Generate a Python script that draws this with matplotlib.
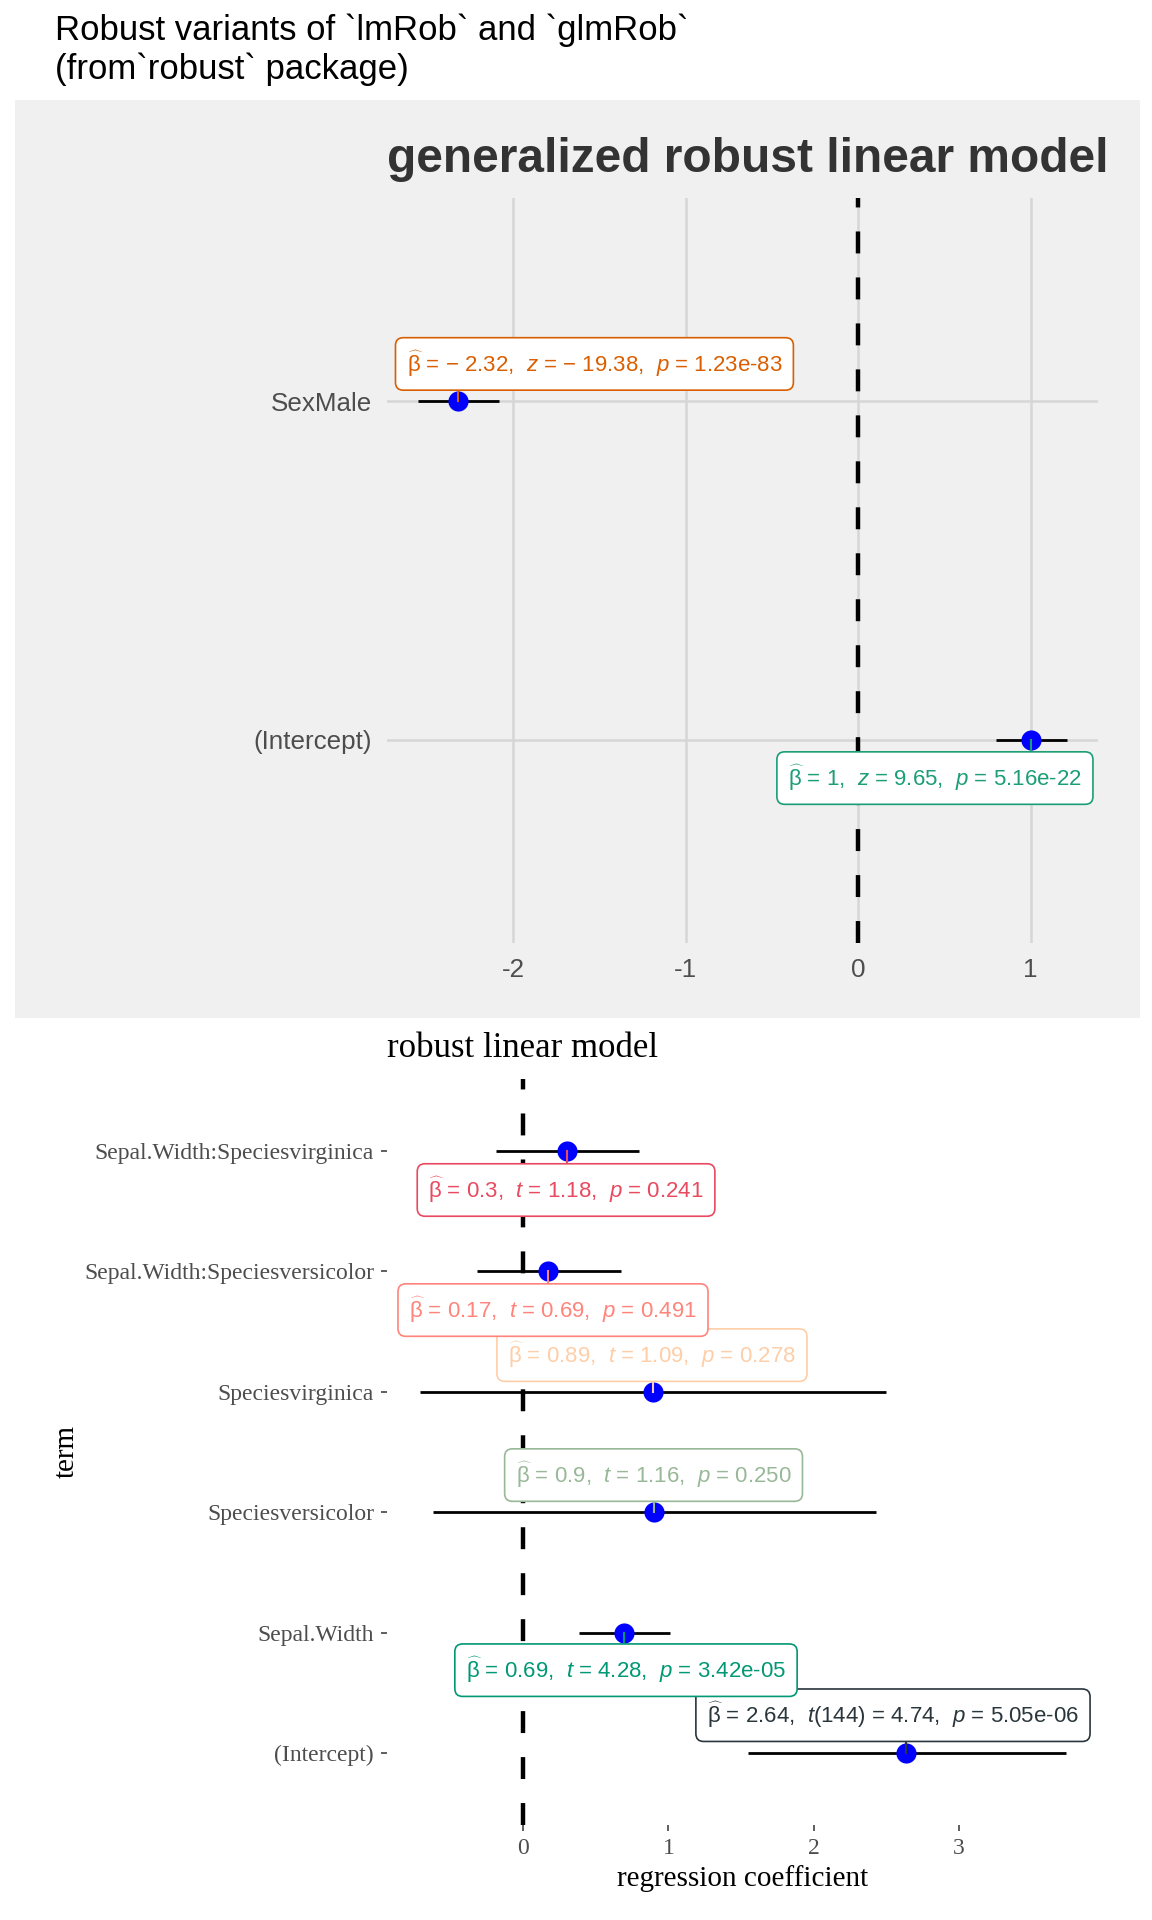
import matplotlib.pyplot as plt
from matplotlib.patches import Rectangle

plt.rcParams['mathtext.fontset'] = 'custom'
plt.rcParams['mathtext.rm'] = 'Liberation Sans'
plt.rcParams['mathtext.it'] = 'Liberation Sans:italic'
plt.rcParams['mathtext.bf'] = 'Liberation Sans:bold'
plt.rcParams['lines.scale_dashes'] = False
plt.rcParams['axes.unicode_minus'] = False

# glmRob fit (top panel)
glm_terms = ['(Intercept)', 'SexMale']
glm_est = [1.0, -2.32]
glm_low = [0.80, -2.55]
glm_high = [1.21, -2.08]
glm_stat = [9.65, -19.38]
glm_p = ['5.16e-22', '1.23e-83']
glm_colors = ['#1B9E77', '#D95F02']
# where the repelled labels ended up (data coords)
glm_label_xy = [(0.445, 0.887), (-1.528, 2.11)]

# lmRob fit (bottom panel)
lm_terms = ['(Intercept)', 'Sepal.Width', 'Speciesversicolor', 'Speciesvirginica',
            'Sepal.Width:Speciesversicolor', 'Sepal.Width:Speciesvirginica']
lm_est = [2.64, 0.69, 0.90, 0.89, 0.17, 0.30]
lm_low = [1.55, 0.38, -0.62, -0.71, -0.32, -0.19]
lm_high = [3.74, 1.01, 2.43, 2.50, 0.67, 0.80]
lm_statname = ['t(144)', 't', 't', 't', 't', 't']
lm_stat = [4.74, 4.28, 1.16, 1.09, 0.69, 1.18]
lm_p = ['5.05e-06', '3.42e-05', '0.250', '0.278', '0.491', '0.241']
lm_colors = ['#2A363B', '#019875', '#99B898', '#FECEA8', '#FF847C', '#E84A5F']
lm_label_xy = [(2.547, 1.314), (0.707, 1.688), (0.897, 3.308),
               (0.886, 4.304), (0.204, 4.678), (0.294, 5.675)]


def num(v):
    s = f"{abs(v):g}"
    return ('\u2212 ' + s) if v < 0 else s


def label(est, sname, stat, p):
    if '(' in sname:
        sname = r'$\mathit{t}$' + sname[1:]
    else:
        sname = r'$\mathit{%s}$' % sname
    return (r'$\widehat{\mathrm{\beta}}$ = ' + num(est) + ',  ' + sname + ' = ' + num(stat)
            + ',  ' + r'$\mathit{p}$ = ' + p)


def draw_coefs(ax, est, low, high, names, stats, ps, colors, label_xy, fs):
    ys = list(range(1, len(est) + 1))
    ax.axvline(0, color='black', lw=3.2, dashes=(15.8, 17.3), zorder=2)
    ax.hlines(ys, low, high, color='black', lw=2, zorder=3)
    ax.plot(est, ys, 'o', color='#0000FF', ms=14.5, mec='none', zorder=4)
    texts = []
    for i in range(len(est)):
        lx, ly = label_xy[i]
        t = ax.text(lx, ly, label(est[i], names[i], stats[i], ps[i]), ha='center', va='center',
                    color=colors[i], fontsize=fs, family='Liberation Sans', zorder=6 + i,
                    bbox=dict(boxstyle='round,pad=0.5,rounding_size=0.35', fc='white',
                              ec=colors[i], lw=1.2))
        texts.append(t)
    return ys, texts


def connect(ax, est, ys, texts, colors):
    # segment from each point to the closest spot on its label box
    inv = ax.transData.inverted()
    for i, t in enumerate(texts):
        bb = t.get_bbox_patch().get_window_extent()
        (x0, y0), (x1, y1) = inv.transform([[bb.x0, bb.y0], [bb.x1, bb.y1]])
        px, py = est[i], ys[i]
        ex = min(max(px, x0), x1)
        ey = min(max(py, y0), y1)
        ax.plot([px, ex], [py, ey], color=colors[i], lw=1.5, zorder=5)


fig = plt.figure(figsize=(11.52, 19.2), dpi=100)
W, H = 1152, 1920

fig.add_artist(Rectangle((15 / W, 1 - 1018 / H), 1125 / W, 918 / H,
                         transform=fig.transFigure, fc='#F0F0F0', ec='none', zorder=-10))

fig.text(55 / W, 1 - 78.5 / H, "Robust variants of `lmRob` and `glmRob`\n(from`robust` package)",
         fontsize=25, family='Liberation Sans', va='baseline', linespacing=1.175)

# top panel
ax1 = fig.add_axes([387 / W, 1 - 943 / H, 711 / W, 745 / H])
ax1.set_facecolor('#F0F0F0')
ys1, texts1 = draw_coefs(ax1, glm_est, glm_low, glm_high, ['z'] * 2, glm_stat, glm_p,
                         glm_colors, glm_label_xy, 16)
ax1.set_xlim(-2.73, 1.39)
ax1.set_ylim(0.4, 2.6)
ax1.set_xticks([-2, -1, 0, 1])
ax1.set_yticks(ys1, glm_terms)
ax1.grid(True, color='#D6D6D6', lw=1.8)
ax1.set_axisbelow(True)
ax1.tick_params(length=0, labelsize=18.7, labelcolor='#4D4D4D', pad=11)
for lab in ax1.get_xticklabels() + ax1.get_yticklabels():
    lab.set_family('Liberation Sans')
for s in ax1.spines.values():
    s.set_visible(False)
ax1.set_title('generalized robust linear model', loc='left', fontsize=34.5,
              fontweight='bold', color='#333333', family='Liberation Sans', pad=18.7)

# bottom panel
ax2 = fig.add_axes([387 / W, 1 - 1825.3 / H, 711 / W, 746.7 / H])
ys2, texts2 = draw_coefs(ax2, lm_est, lm_low, lm_high, lm_statname, lm_stat, lm_p,
                         lm_colors, lm_label_xy, 16)
ax2.set_xlim(-0.94, 3.96)
ax2.set_ylim(0.4, 6.6)
ax2.set_xticks([0, 1, 2, 3])
ax2.set_yticks(ys2, lm_terms)
ax2.tick_params(length=4.3, width=1.1, color='#333333', labelsize=17,
                labelcolor='#4D4D4D', pad=5)
for lab in ax2.get_xticklabels() + ax2.get_yticklabels():
    lab.set_family('Liberation Serif')
for s in ax2.spines.values():
    s.set_visible(False)
ax2.set_title('robust linear model', loc='left', fontsize=25, family='Liberation Serif', pad=15.5)
ax2.set_xlabel('regression coefficient', fontsize=21, family='Liberation Serif', labelpad=4)
ax2.set_ylabel('term', fontsize=21, family='Liberation Serif')
ax2.yaxis.set_label_coords(-0.432, 0.5)

fig.canvas.draw()
connect(ax1, glm_est, ys1, texts1, glm_colors)
connect(ax2, lm_est, ys2, texts2, lm_colors)

fig.savefig('out.png', dpi=100)
